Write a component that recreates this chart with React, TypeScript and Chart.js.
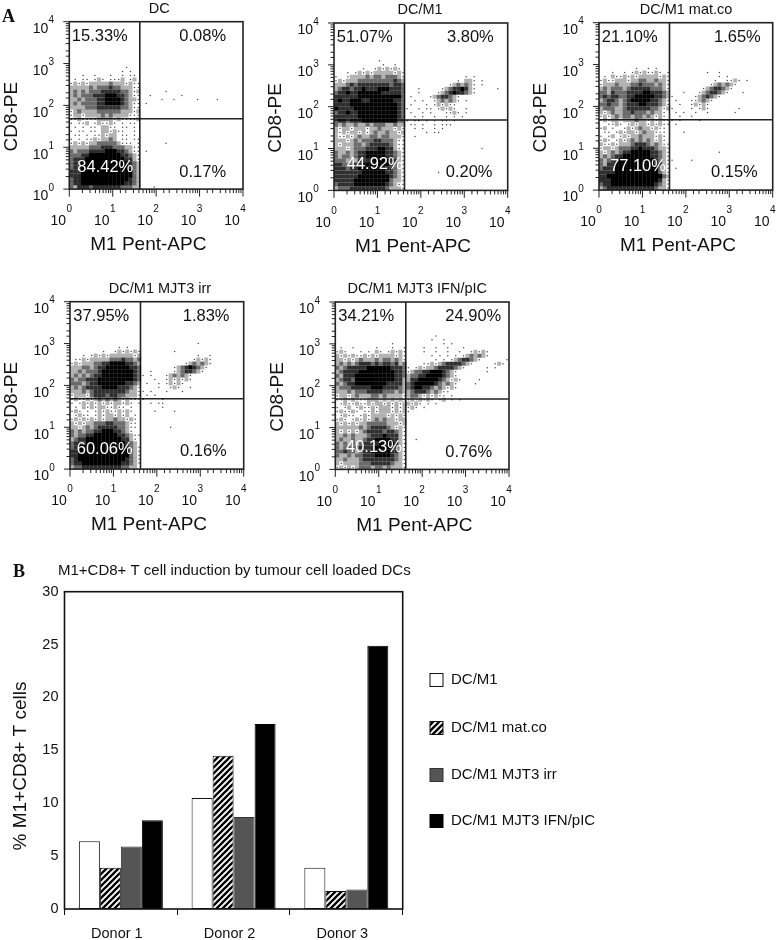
import React, { useEffect, useRef } from "react";
import { Chart, registerables } from "chart.js";

Chart.register(...registerables);

const FONT = '"Liberation Sans", Arial, sans-serif';

// ---------- Panel A data ----------
const panelTitles = ["DC", "DC/M1", "DC/M1 mat.co", "DC/M1 MJT3 irr", "DC/M1 MJT3 IFN/pIC"];
const panelPercents = [
  ["15.33%", "0.08%", "84.42%", "0.17%"],
  ["51.07%", "3.80%", "44.92%", "0.20%"],
  ["21.10%", "1.65%", "77.10%", "0.15%"],
  ["37.95%", "1.83%", "60.06%", "0.16%"],
  ["34.21%", "24.90%", "40.13%", "0.76%"],
];
const xAxisTitle = "M1 Pent-APC";
const yAxisTitle = "CD8-PE";
const gateX = 42;
const gateY = 48;

// Event density, one row per 1/10.5 decade of CD8-PE
// starting at row 8 from the top, one column per 1/11 decade of M1 Pent-APC.
// Text before "|" is left of the M1 gate, text after it right of the gate.
const densityDC = [
  "", "", "",
  "              .",
  "             . .",
  "   .  .   .  . ..",
  " . .. .:. ...: .:",
  ".:.:.:::::+:::.:..",
  ":::::+:+++o++:::..",
  ":+:+:+++ooooo++:.:|      .",
  ":+:+++ooo###oo+:..|  .       .",
  "::+:+++oo####o+::.|     .  .     .    .",
  ":+:++++oo####o+:..| .",
  "::::+++oooooo++:..",
  ".:+::::++++++:::.:",
  ".::.::::+:+::::...",
  "..:....::::.:....:",
  ". ..: .:..:. . ..",
  " . . .. ::.. .. .",
  ". .. .. ::.:..  .",
  " .. . ..:.:: .. .",
  ". . ..:.::+: .. ..",
  ".:.:.::+++++:... .|      .",
  ":::::+++ooo+++::..",
  "+:+++oooo###oo+:..| .",
  "+++oo########oo+:.",
  "+ooo##########oo:.",
  "+oo############o+:",
  "+oo############o+:",
  "ooo#############+:",
  "ooo#############+:",
  "+oo############o+:",
  "+oo###########oo+:",
  "+:ooo+ooooooo+++::|   .",
];
const densityDCM1 = [
  "",
  "           .",
  "            .  .",
  "       .  .:.:.:.",
  "   . .:.:.:::::.:.",
  ".  .::::+:++:+++:.|               . .",
  ".:.:::+++++++++o+:|             . ::. .",
  ":::+o+oooooooo+oo+|           .:+:+:. .",
  ":+oo+oo#ooo###ooo+|   .     .:+oo#o:.     .",
  "+oo#oo######ooooo+|   .    .:+o#oo+:.",
  "oooooo###########+| .    .:+oo+:.",
  "o#oo###oo######oo+|  . .  .:+:+:. .",
  "oooo############o+| .   . .:.:..",
  "#oooo###########o+|.  . .. .:.:.  .",
  "+oo#oo##########o+| .  . .   ..:. .",
  "oooooo##########o+|  . .  .  . . .",
  "+oo+ooo#########++|. .. . . .. .",
  "+:+::+::+:+++::+::| .. .  . ...",
  ":.::.:::.::+:::.:.|  . .  . .",
  ":.:.::.:.:+::+::.:|     . ..",
  ":..:.:+::++:++:::.|  .",
  ":::.:+:+++oo+++:..",
  ":.:::++:+ooooo+:..",
  ":::.:+++ooo##oo:..|                   .",
  "+::+:+oo#####oo+:.",
  "+:++:+oo#####oo+:.",
  "+++:+:ooo#####oo:.",
  "oo+++oo#######o+:.",
  "ooo+oo#######oo+:.",
  "ooooooo######oo+:.|        .",
  "oooooo########o+:.",
  "ooooo#########+::.",
  "+oooo########o+:..",
  ":+++ooooooooo+:::.",
];
const densityMatCo = [
  "", "", "",
  "         .  . .",
  "   .  . .:.:..:. .|         .  .",
  " . :..:.:.:::::.:.|            . .",
  ".:..:::.::++::+::.|           .  ..:. .",
  ".:::+:::++o+++:+:.|          .:+:+:.",
  ":+:+++:+ooooo+++:.|        .:+oo+:.",
  "++:o+++oooo##ooo+:|   .   .:+oo+:.   .",
  "+o+oo++oo#####oo+:|.     .:+o+:.",
  ":+oo+:+o#####oo+:.| .   ..:+:.",
  "++o++:+ooo##ooo+:.|  .  .:.:.",
  ":+++::+oooooo++:.:|.    . .:.       .",
  ":.:+::++o+++:+::. | . .  .  .      .",
  ".:.:+:++:++:+:.:. |  .  .",
  ".:.::.:::+::.:.:..|. .    .",
  "  ..:. .:.::.:.:..| .",
  ".: .  .:.:+::.:..",
  " .. .:.::.:+::...|   .",
  ". .: .:.::+:::.:.",
  ".:. .:.:+:+:+:.:.",
  ":..:.:::+ooo+:+:..",
  ".::.:+++oo#ooo+::.",
  ":.:+:+oo#####oo+:.|            .",
  ":+:+oo#######oo+:.",
  "+:+oo#########o+:.|.    .",
  "+:oo##########oo:.",
  "+ooo###########+:.| .",
  "oooo###########+:.",
  "oo##############+:",
  "ooo############o:.",
  "+oo###########o+:.",
  ":+oooooooooooo+::.",
];
const densityIrr = [
  "", "",
  "                  |              .",
  "            . .",
  "        .  .:.:.:.|        .",
  "   . .:.:.::::::.:|              .  .",
  " ..:.:::::+++o++:+|             .:.:.",
  ".:.:::++oo####oo+:|           .:+:+:.",
  ":::++:+oo######oo+|        .:+o#o+:.",
  "::+:+++o########o+|  .     .:+oo+:.",
  ":+:+:+oo########o+|. .   .:+:+:.",
  "+:++ooo#########o+|   .  .:.:.:.",
  "+++:+oo#######oo+:| .  . .:.:.",
  ":+:+oooo####ooo+:.|    .  .:.  .",
  ":::+:+oooooooo+::.|. .   .   .",
  ".:::.+ooo+oo++:::.| . .",
  ".:..:.:+:+:+:.:...|.    .",
  ". .:.:.:.:.::.:. .|  . ..",
  " . :.:.::..:.. .  |     .",
  ".:. . .:.:..:.:.  |   .    .",
  " .:.. .:.::.:.: .",
  ".:.:.:.:.::+::.:.",
  ":.:.::+++oo+++:..",
  "::.:+:+ooooo++:.. |       .",
  "+:+:++oo###oo+:.",
  "+:++oo######oo+:..",
  ":+oo#########oo:.",
  "+ooo##########o+:",
  "+o############o+:.",
  "oo#############+:.",
  "oo#############+:.",
  "+o############o+:.",
  "+oo##########oo+:.",
  ":++oooooooooo++::",
];
const densityIfn = [
  "|       .",
  "|      .  .",
  "              .   |         . .",
  " .  .     .   .  .|    .  .  .   .",
  ".:.   . . :. .:.:.|    .  .  .  .  .:.:.",
  ":.:.:..:.:.::::.:.|      . . . . .:+:+:.     .",
  "::.:.:+:::+:++:+:.|       . . .:+oo+:.      . .",
  ":+:+:+ooo+o+oo+o:+|    ..:.:+oooo+:.     .:.",
  "+:+ooooo######ooo+|. .:.::+oooo+:.     . .",
  ":+oooo#########oo+|.:++oo###o+:.       .",
  "+:ooo##########oo+|:++oo####o+:.",
  ":+oo+##########oo:|:oo#####o+:.:.    .",
  "+:+oo########oooo:|+o#####o+:+:.    .",
  ":+++ooooo###oooo+:|+o##oo+:+:.:.",
  ":::+:+++oooo+++:+:|:+ooo+:+:..",
  ".::.:+:::++:+::::.|:++:.:.:.. .",
  "..:.:...:::.:.:.:.|.:.:.:. .: . .",
  " .:..:..:.::.:.:.:|:.:. . .",
  ". .: .:..:.:::.:.:|.:. .",
  ".:..:. ..:.:::.:.:|.",
  " .:.. .:.::::.:.:.",
  ".:. .:.:.:+:+::.::",
  ":.:.:.::+++++:::.:",
  "::::::+:+oooo+:.:.",
  ":.:.:.:+oooo+oo+:.",
  "::+:+:::+ooo#ooo:.",
  ":+::+::+oo####oo:.|  .",
  "+:+:+:+oooo####o:.",
  "+:++++oooo####oo:.",
  "++o++:+oo#####oo:.",
  "+::+:++ooo####o+:.",
  "::+:::+oooooooo+:.",
  ":.::::+++ooooo+::.",
  ".:.:.:+++:++:+:::.",
];
const densityMaps = [densityDC, densityDCM1, densityMatCo, densityIrr, densityIfn];

// ---------- Panel B data ----------
const donors = ["Donor 1", "Donor 2", "Donor 3"];
const seriesLabels = ["DC/M1", "DC/M1 mat.co", "DC/M1 MJT3 irr", "DC/M1 MJT3 IFN/pIC"];
const dcM1Values = [6.4, 10.5, 3.9];
const matCoValues = [3.9, 14.5, 1.7];
const irrValues = [5.9, 8.7, 1.85];
const ifnValues = [8.4, 17.5, 24.9];
const barTitle = "M1+CD8+ T cell induction by tumour cell loaded DCs";
const barYTitle = "% M1+CD8+ T cells";

// ---------- Layout (pixels on the page) ----------
const panelLayout = [
  { l: 69.3, t: 21.7, canvasL: 0, canvasW: 262, titleX: 90, pct: [[2.5, 15], [110, 15], [8, 146], [110, 151]] },
  { l: 334, t: 23, canvasL: 265, canvasW: 262, titleX: 86, pct: [[2.7, 14], [113, 14], [12.7, 141], [111.7, 149]] },
  { l: 599, t: 22.7, canvasL: 530, canvasW: 247, titleX: 87, pct: [[2.7, 15], [115, 15], [11, 144], [112, 150]] },
  { l: 70, t: 301.7, canvasL: 0, canvasW: 262, titleX: 90, pct: [[3.3, 14.3], [112.7, 14.3], [6.7, 148], [110, 150]] },
  { l: 335.3, t: 302, canvasL: 265, canvasW: 262, titleX: 82, pct: [[3, 14.3], [110, 14.3], [10.7, 145], [110, 150]] },
];
const PLOT_W = 173.7;
const PLOT_H = 167.4;
const LEFT_MARGIN = 66;
const CANVAS_H = 262;

const levelStyle: Record<string, { r: number; color: string; shape: string }> = {
  ".": { r: 0.75, color: "rgba(0,0,0,0.7)", shape: "circle" },
  ":": { r: 2.85, color: "rgba(0,0,0,0.3)", shape: "rect" },
  "+": { r: 2.85, color: "rgba(0,0,0,0.58)", shape: "rect" },
  o: { r: 2.85, color: "rgba(0,0,0,0.82)", shape: "rect" },
  "#": { r: 3, color: "#000", shape: "rect" },
};

function decodeDensity(rows: string[]) {
  const out: Record<string, { x: number; y: number }[]> = { ".": [], ":": [], "+": [], o: [], "#": [] };
  const add = (ch: string, c: number, r: number) => {
    if (!out[ch]) return;
    out[ch].push({
      x: Math.pow(10, ((c + 0.5) / 44) * 4),
      y: Math.pow(10, 4 - ((r + 8 + 0.5) / 42) * 4),
    });
  };
  rows.forEach((row, r) => {
    const [left, right = ""] = row.split("|");
    left.slice(0, 18).split("").forEach((ch, c) => add(ch, c, r));
    right.split("").forEach((ch, c) => add(ch, c + 18, r));
  });
  return out;
}

function text(ctx: CanvasRenderingContext2D, s: string, x: number, y: number, font: string, color = "#111", align: CanvasTextAlign = "left", rot = 0) {
  ctx.save();
  ctx.translate(x, y);
  if (rot) ctx.rotate(rot);
  ctx.font = font;
  ctx.fillStyle = color;
  ctx.textAlign = align;
  ctx.textBaseline = "middle";
  ctx.fillText(s, 0, 0);
  ctx.restore();
}

const isDecade = (v: number) => Number.isInteger(Math.round(Math.log10(v) * 1e6) / 1e6);

const zeroPadding = (s: any) => {
  s.paddingLeft = s.paddingRight = s.paddingTop = s.paddingBottom = 0;
};

function makePanel(canvas: HTMLCanvasElement, i: number) {
  const lay = panelLayout[i];
  const cells = decodeDensity(densityMaps[i]);
  const leftPad = lay.l - lay.canvasL - LEFT_MARGIN;
  const rightPad = lay.canvasW - (lay.l - lay.canvasL) - PLOT_W;
  const overlay = {
    id: "fcsOverlay",
    afterDatasetsDraw(chart: any) {
      const { ctx, chartArea: a, scales } = chart;
      ctx.save();
      ctx.strokeStyle = "#222";
      ctx.lineWidth = 1;
      ctx.beginPath();
      scales.x.ticks.forEach((t: any) => {
        const px = scales.x.getPixelForValue(t.value);
        ctx.moveTo(px, a.bottom);
        ctx.lineTo(px, a.bottom + (isDecade(t.value) ? 7.5 : 4));
      });
      scales.y.ticks.forEach((t: any) => {
        const py = scales.y.getPixelForValue(t.value);
        ctx.moveTo(a.left, py);
        ctx.lineTo(a.left - (isDecade(t.value) ? 6 : 3.5), py);
      });
      ctx.stroke();
      ctx.lineWidth = 1.6;
      ctx.strokeRect(a.left, a.top, a.right - a.left, a.bottom - a.top);
      ctx.restore();
      [0, 1, 2, 3, 4].forEach((e) => {
        const v = Math.pow(10, e);
        text(ctx, String(e), scales.x.getPixelForValue(v), a.bottom + 20.5, `10px ${FONT}`, "#111", "center");
        text(ctx, String(e), a.left - 18, scales.y.getPixelForValue(v) - 1, `10px ${FONT}`, "#111", "center");
      });
      text(ctx, panelTitles[i], a.left + lay.titleX, a.top - 13, `14.5px ${FONT}`, "#111", "center");
      text(ctx, xAxisTitle, a.left + 79, a.bottom + 56, `19px ${FONT}`, "#111", "center");
      text(ctx, yAxisTitle, a.left - 58, a.top + 95, `19px ${FONT}`, "#111", "center", -Math.PI / 2);
      panelPercents[i].forEach((s, k) => {
        text(ctx, s, a.left + lay.pct[k][0], a.top + lay.pct[k][1], `16.5px ${FONT}`, k === 2 ? "#fff" : "#111");
      });
    },
  };
  const fixedScale = (scaleOpts: any, fit: (s: any) => void) => ({
    type: "logarithmic",
    min: 1,
    max: 10000,
    afterFit: (s: any) => { fit(s); zeroPadding(s); },
    grid: { display: false, drawTicks: false },
    border: { display: false },
    ...scaleOpts,
  });
  const topPad = lay.t - (i > 2 ? 280 : 0);
  return new Chart(canvas, {
    type: "scatter",
    data: {
      datasets: [
        ...Object.keys(cells).map((k) => ({
          data: cells[k],
          pointRadius: levelStyle[k].r,
          pointStyle: levelStyle[k].shape,
          pointBorderWidth: 0,
          pointBackgroundColor: levelStyle[k].color,
          borderWidth: 0,
        })),
        {
          data: [{ x: gateX, y: 1 }, { x: gateX, y: 10000 }],
          showLine: true, pointRadius: 0, borderColor: "#222", borderWidth: 1.6,
        },
        {
          data: [{ x: 1, y: gateY }, { x: 10000, y: gateY }],
          showLine: true, pointRadius: 0, borderColor: "#222", borderWidth: 1.6,
        },
      ],
    } as any,
    options: {
      animation: false,
      responsive: false,
      devicePixelRatio: 1,
      layout: {
        autoPadding: false,
        padding: { left: leftPad, right: rightPad, top: topPad, bottom: CANVAS_H - topPad - PLOT_H - 50 },
      },
      plugins: { legend: { display: false }, tooltip: { enabled: false } },
      scales: {
        x: fixedScale(
          {
            ticks: {
              autoSkip: false, maxRotation: 0, minRotation: 0, padding: 24, labelOffset: -11,
              font: { family: FONT, size: 14 }, color: "#111",
              callback: (v: number) => (isDecade(v) ? "10" : ""),
            },
          },
          (s) => { s.height = 50; }
        ),
        y: fixedScale(
          {
            ticks: {
              autoSkip: false, padding: 21, labelOffset: 7.5,
              font: { family: FONT, size: 14 }, color: "#111",
              callback: (v: number) => (isDecade(v) ? "10" : ""),
            },
          },
          (s) => { s.width = LEFT_MARGIN; }
        ),
      },
    } as any,
    plugins: [overlay],
  } as any);
}

function makeHatch(): CanvasPattern | string {
  const tile = document.createElement("canvas");
  tile.width = 6;
  tile.height = 6;
  const c = tile.getContext("2d")!;
  c.fillStyle = "#fff";
  c.fillRect(0, 0, 6, 6);
  c.strokeStyle = "#000";
  c.lineWidth = 2.3;
  c.beginPath();
  c.moveTo(-3, 3); c.lineTo(3, -3);
  c.moveTo(0, 6); c.lineTo(6, 0);
  c.moveTo(3, 9); c.lineTo(9, 3);
  c.stroke();
  return c.createPattern(tile, "repeat")!;
}

function makeBars(canvas: HTMLCanvasElement) {
  const BAR_CANVAS_TOP = 555;
  const hatch = makeHatch();
  const overlay = {
    id: "barOverlay",
    afterDatasetsDraw(chart: any) {
      const { ctx, chartArea: a } = chart;
      ctx.save();
      ctx.strokeStyle = "#111";
      ctx.lineWidth = 1.6;
      ctx.strokeRect(a.left, a.top, a.right - a.left, a.bottom - a.top);
      ctx.restore();
      text(ctx, barTitle, 58, 570.5 - BAR_CANVAS_TOP, `15px ${FONT}`);
      text(ctx, barYTitle, 20.5, 766 - BAR_CANVAS_TOP, `19px ${FONT}`, "#111", "center", -Math.PI / 2);
      const legendY = [680, 728, 775, 821];
      chart.data.datasets.forEach((d: any, k: number) => {
        const y = legendY[k] - BAR_CANVAS_TOP;
        ctx.save();
        ctx.fillStyle = d.backgroundColor;
        ctx.strokeStyle = d.borderColor;
        ctx.lineWidth = 1;
        ctx.fillRect(430, y - 6.5, 13, 13);
        ctx.strokeRect(430, y - 6.5, 13, 13);
        ctx.restore();
        text(ctx, d.label, 451, y, `15px ${FONT}`);
      });
    },
  };
  const common = { borderWidth: 1, borderSkipped: false };
  return new Chart(canvas, {
    type: "bar",
    data: {
      labels: donors,
      datasets: [
        { label: seriesLabels[0], data: dcM1Values, backgroundColor: "#fff", borderColor: "#111", ...common },
        { label: seriesLabels[1], data: matCoValues, backgroundColor: hatch, borderColor: "#111", ...common },
        { label: seriesLabels[2], data: irrValues, backgroundColor: "#555", borderColor: "#333", ...common },
        { label: seriesLabels[3], data: ifnValues, backgroundColor: "#000", borderColor: "#000", ...common },
      ],
    } as any,
    options: {
      animation: false,
      responsive: false,
      devicePixelRatio: 1,
      layout: { autoPadding: false, padding: { left: 0, top: 591.7 - BAR_CANVAS_TOP, right: 777 - 402.7, bottom: 0 } },
      plugins: { legend: { display: false }, tooltip: { enabled: false } },
      datasets: { bar: { categoryPercentage: 0.745, barPercentage: 1 } },
      scales: {
        x: {
          afterFit: (s: any) => { s.height = 940 - 909; zeroPadding(s); },
          grid: { drawOnChartArea: false, tickLength: 6, color: "#111", offset: true },
          border: { display: false },
          ticks: { font: { family: FONT, size: 14.5 }, color: "#111", padding: 10, labelOffset: -4, maxRotation: 0 },
        },
        y: {
          min: 0,
          max: 30,
          afterFit: (s: any) => { s.width = 64.5; zeroPadding(s); },
          grid: { display: false, drawTicks: false },
          border: { display: false },
          ticks: { stepSize: 5, font: { family: FONT, size: 14.5 }, color: "#111", padding: 6 },
        },
      },
    } as any,
    plugins: [overlay],
  } as any);
}

export default function App() {
  const panelRefs = useRef<(HTMLCanvasElement | null)[]>([]);
  const barRef = useRef<HTMLCanvasElement | null>(null);
  useEffect(() => {
    const charts = panelRefs.current.map((c, i) => makePanel(c!, i));
    const bars = makeBars(barRef.current!);
    return () => {
      charts.forEach((c) => c.destroy());
      bars.destroy();
    };
  }, []);
  return (
    <div style={{ position: "absolute", left: 0, top: 0, width: 777, height: 940, overflow: "hidden", background: "#fff" }}>
      {panelLayout.map((p, i) => (
        <canvas
          key={i}
          ref={(el) => { panelRefs.current[i] = el; }}
          width={p.canvasW}
          height={CANVAS_H}
          style={{ position: "absolute", left: p.canvasL, top: i > 2 ? 280 : 0, width: p.canvasW, height: CANVAS_H }}
        />
      ))}
      <canvas ref={barRef} width={777} height={385} style={{ position: "absolute", left: 0, top: 555, width: 777, height: 385 }} />
      <div style={{ position: "absolute", left: 2, top: 6, font: `bold 18px "Liberation Serif", serif`, color: "#111" }}>A</div>
      <div style={{ position: "absolute", left: 13, top: 561, font: `bold 18px "Liberation Serif", serif`, color: "#111" }}>B</div>
    </div>
  );
}
